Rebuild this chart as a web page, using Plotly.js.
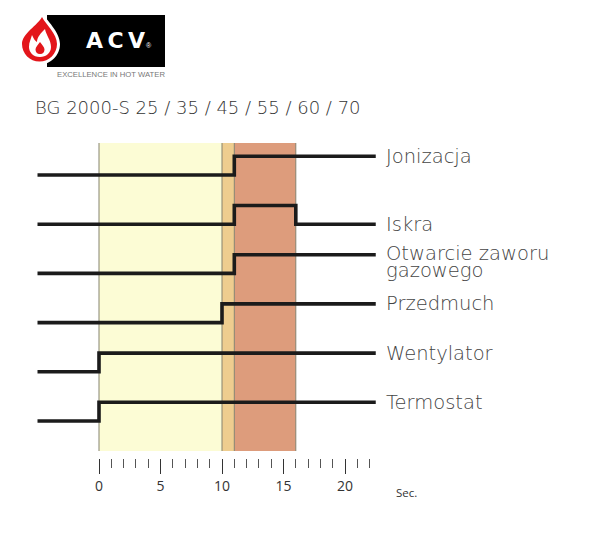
<!DOCTYPE html>
<html>
<head>
<meta charset="utf-8">
<script src="https://cdn.plot.ly/plotly-3.0.1.min.js"></script>
<style>html,body{margin:0;padding:0;background:#fff;}</style>
</head>
<body>
<div id="chart" style="width:600px;height:540px;"></div>
<script>
// ---- data ----
const chartTitle = 'BG 2000-S 25 / 35 / 45 / 55 / 60 / 70';
const signalNames = ['Termostat', 'Wentylator', 'Przedmuch', 'Otwarcie zaworu\ngazowego', 'Iskra', 'Jonizacja'];
const signalTimes = [
  [-5, 0, 22.5],
  [-5, 0, 22.5],
  [-5, 10, 22.5],
  [-5, 11, 22.5],
  [-5, 11, 16, 22.5],
  [-5, 11, 22.5]
];
const signalStates = [
  [0, 1, 1],
  [0, 1, 1],
  [0, 1, 1],
  [0, 1, 1],
  [0, 1, 0, 0],
  [0, 1, 1]
];
const phaseStart = [0, 10, 11];
const phaseEnd = [10, 11, 16];
const phaseColors = ['#fcfcd5', '#eecd8f', '#dd9c7c'];
const majorTicks = [0, 5, 10, 15, 20];
const minorTicks = [1, 2, 3, 4, 6, 7, 8, 9, 11, 12, 13, 14, 16, 17, 18, 19, 21, 22];
const timeUnit = 'Sec.';

// ---- geometry helpers ----
const W = 600, H = 540;
const PXS = 12.3;          // px per second
const X0 = 99;             // px of t=0
const SP = 49.2;           // px per signal row
const Y0 = 421;            // px of bottom row baseline
const AMP = 0.38;          // high level height (rows)
const xr = [-X0 / PXS, (W - X0) / PXS];
const yr = [(Y0 - H) / SP, Y0 / SP];
function px2x(p) { return (p - X0) / PXS; }
function px2y(p) { return (Y0 - p) / SP; }
function path(pts) {
  return pts.map(t => Array.isArray(t) ? (t[0] / W).toFixed(5) + ',' + (1 - t[1] / H).toFixed(5) : t).join(' ');
}

// ---- traces ----
const traces = signalNames.map((n, i) => ({
  type: 'scatter', mode: 'lines',
  x: signalTimes[i],
  y: signalStates[i].map(s => i + AMP * s),
  line: {shape: 'hv', color: '#1b1b1b', width: 3.6},
  hoverinfo: 'skip', showlegend: false
}));

// ---- shapes ----
const shapes = [];
const bandTop = px2y(143), bandBot = px2y(451);
phaseStart.forEach((s, i) => {
  shapes.push({type: 'rect', xref: 'x', yref: 'y', x0: s, x1: phaseEnd[i], y0: bandBot, y1: bandTop,
    fillcolor: phaseColors[i], line: {width: 0}, layer: 'below'});
});
[0].concat(phaseEnd).forEach(v => {
  shapes.push({type: 'line', xref: 'x', yref: 'y', x0: v, x1: v, y0: bandBot, y1: bandTop,
    line: {color: '#85826e', width: 1}, layer: 'below'});
});

// logo
shapes.push({type: 'rect', xref: 'paper', yref: 'paper', x0: 47 / W, x1: 165 / W, y0: 1 - 67 / H, y1: 1 - 15 / H,
  fillcolor: '#000', line: {width: 0}});
function dropPath(cx, cy, r, tipx, tipy) {
  const k = 0.5523 * r;
  return path(['M', [tipx, tipy],
    'C', [tipx - 4, tipy + 8], [cx - r, cy - r * 0.6], [cx - r, cy],
    'C', [cx - r, cy + k], [cx - k, cy + r], [cx, cy + r],
    'C', [cx + k, cy + r], [cx + r, cy + k], [cx + r, cy],
    'C', [cx + r, cy - r * 0.6], [tipx + 4, tipy + 8], [tipx, tipy], 'Z']);
}
shapes.push({type: 'path', xref: 'paper', yref: 'paper', path: dropPath(39.5, 44, 20.5, 42, 12), fillcolor: '#fff', line: {width: 0}});
shapes.push({type: 'path', xref: 'paper', yref: 'paper', path: dropPath(39.5, 44, 17.5, 42, 17), fillcolor: '#e3161b', line: {width: 0}});
shapes.push({type: 'path', xref: 'paper', yref: 'paper', fillcolor: '#fff', line: {width: 0},
  path: path(['M', [40, 57], 'C', [33, 57], [29, 52], [29, 47], 'C', [29, 42], [31, 39], [32, 35],
    'C', [34, 39], [35, 41], [37, 42], 'C', [37, 37], [41, 33], [45, 29],
    'C', [46, 35], [51, 40], [51, 47], 'C', [51, 53], [46, 57], [40, 57], 'Z'])});
shapes.push({type: 'path', xref: 'paper', yref: 'paper', fillcolor: '#e3161b', line: {width: 0},
  path: path(['M', [40, 54], 'C', [37, 54], [35.5, 52], [35.5, 49.5], 'C', [35.5, 47], [38, 45], [40, 42],
    'C', [42, 45], [44.5, 47], [44.5, 49.5], 'C', [44.5, 52], [43, 54], [40, 54], 'Z'])});

// ---- annotations ----
const lblFont = {family: 'DejaVu Sans, sans-serif', size: 19.5, color: '#444', weight: 300};
const annotations = [];
signalNames.forEach((n, i) => {
  const st = signalStates[i];
  const lvl = i + AMP * st[st.length - 1];
  const parts = n.split('\n');
  parts.forEach((line, k) => {
    annotations.push({xref: 'x', yref: 'y', x: px2x(384), y: lvl, text: line, showarrow: false,
      xanchor: 'left', yanchor: 'middle', yshift: parts.length > 1 ? 1 - k * 17 : 0,
      align: 'left', font: lblFont});
  });
});
annotations.push({xref: 'paper', yref: 'paper', x: 33 / W, y: 1 - 108 / H, xanchor: 'left', yanchor: 'middle',
  text: chartTitle, showarrow: false, font: {family: 'DejaVu Sans, sans-serif', size: 18, color: '#333', weight: 300}});
annotations.push({xref: 'paper', yref: 'paper', x: 406 / W, y: 1 - 492 / H, xanchor: 'center', yanchor: 'middle',
  text: timeUnit, showarrow: false, font: {family: 'Open Sans, sans-serif', size: 11.5, color: '#333'}});
annotations.push({xref: 'paper', yref: 'paper', x: 115 / W, y: 1 - 40 / H, xanchor: 'center', yanchor: 'middle',
  text: '<b>A\u2009C\u2009V</b>', showarrow: false, font: {family: 'DejaVu Sans, sans-serif', size: 22, color: '#fff'}});
annotations.push({xref: 'paper', yref: 'paper', x: 149 / W, y: 1 - 46 / H, xanchor: 'center', yanchor: 'middle',
  text: '®', showarrow: false, font: {family: 'Liberation Sans, Arial, sans-serif', size: 7, color: '#fff'}});
annotations.push({xref: 'paper', yref: 'paper', x: 55 / W, y: 1 - 75 / H, xanchor: 'left', yanchor: 'middle',
  text: 'EXCELLENCE IN HOT WATER', showarrow: false, font: {family: 'Liberation Sans, Arial, sans-serif', size: 7.7, color: '#777'}});

const layout = {
  width: W, height: H,
  margin: {l: 0, r: 0, t: 0, b: 0},
  paper_bgcolor: '#fff', plot_bgcolor: '#fff',
  showlegend: false,
  xaxis: {
    range: xr, fixedrange: true, showgrid: false, zeroline: false, showline: false,
    anchor: 'free', position: 1 - 458 / H, side: 'bottom',
    tickmode: 'array', tickvals: majorTicks, ticktext: majorTicks.map(String),
    ticks: 'outside', ticklen: 15, tickwidth: 1, tickcolor: '#333',
    minor: {tickmode: 'array', tickvals: minorTicks, ticks: 'outside', ticklen: 9, tickwidth: 1, tickcolor: '#555', showgrid: false},
    tickfont: {family: 'Open Sans, sans-serif', size: 14, color: '#333'}
  },
  yaxis: {range: yr, visible: false, fixedrange: true},
  shapes: shapes,
  annotations: annotations
};

Plotly.newPlot('chart', traces, layout, {displayModeBar: false, staticPlot: true});
</script>
</body>
</html>
